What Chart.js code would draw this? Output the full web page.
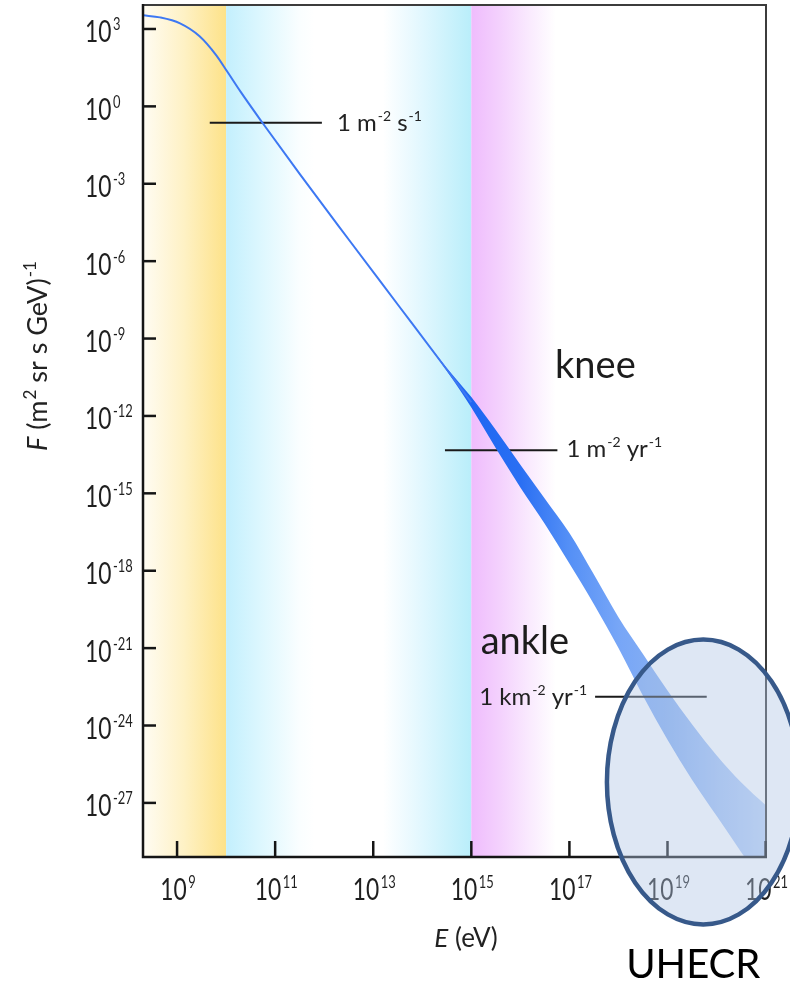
<!DOCTYPE html>
<html>
<head>
<meta charset="utf-8">
<script src="https://cdn.jsdelivr.net/npm/chart.js@4.4.1/dist/chart.umd.min.js"></script>
<style>
html,body{margin:0;padding:0;background:#fff;}
#wrap{width:790px;height:983px;position:relative;}
</style>
</head>
<body>
<div id="wrap"><canvas id="c"></canvas></div>
<script>
// ---------- data ----------
// thin spectrum line: energy (eV) and flux F (m^-2 sr^-1 s^-1 GeV^-1)
const lineEnergy = [2.04e8, 4.47e8, 1.15e9, 2.88e9, 6.31e9, 1.07e10, 2.0e10, 5.5e10, 3.16e11, 3.16e12, 3.16e13, 3.16e14, 1.0e15];
const lineFlux   = [3.39e3, 2.82e3, 1.66e3, 5.25e2, 9.55e1, 2.14e1, 3.55e0, 2.32e-1, 2.40e-3, 6.92e-6, 2.09e-8, 6.31e-11, 3.39e-12];
// widening uncertainty band at high energy
const bandEnergy = [1e14, 3.16e14, 1e15, 3.16e15, 1e16, 3.16e16, 1e17, 3.16e17, 1e18, 3.16e18, 1e19, 3.16e19, 1e20, 3.16e20, 1.02e21];
const bandUpper  = [1.17e-9, 7.24e-11, 5.37e-12, 2.82e-13, 1.29e-14, 6.17e-16, 2.88e-17, 7.08e-19, 1.58e-20, 5.89e-22, 2.29e-23, 1.12e-24, 7.08e-26, 6.31e-27, 7.94e-28];
const bandLower  = [1.17e-9, 5.50e-11, 2.14e-12, 5.62e-14, 1.70e-15, 6.46e-17, 1.91e-18, 5.01e-20, 1.0e-21, 1.41e-23, 2.82e-25, 7.94e-27, 3.16e-28, 1.26e-29, 5.01e-31];
// axis ticks
const xTickValues    = [1e9, 1e11, 1e13, 1e15, 1e17, 1e19, 1e21];
const xTickExponents = ['9', '11', '13', '15', '17', '19', '21'];
const yTickValues    = [1e3, 1e0, 1e-3, 1e-6, 1e-9, 1e-12, 1e-15, 1e-18, 1e-21, 1e-24, 1e-27];
const yTickExponents = ['3', '0', '-3', '-6', '-9', '-12', '-15', '-18', '-21', '-24', '-27'];
const xRange = [2.02e8, 1.02e21];
const yRange = [8.1e-30, 8.5e3];
// energy regions shaded in the background
const regionStart = [2.02e8, 1e10, 1e15];
const regionEnd   = [1e10, 1e15, 5.3e16];
// integral-rate reference levels
const rateFlux  = [2.32e-1, 4.65e-14, 1.29e-23];
const rateEMin  = [4.64e9, 2.90e14, 3.34e17];
const rateEMax  = [8.97e11, 5.69e16, 6.31e19];
const rateText  = [
  [['1 m','n'],['-2','s'],[' s','n'],['-1','s']],
  [['1 m','n'],['-2','s'],[' yr','n'],['-1','s']],
  [['1 km','n'],['-2','s'],[' yr','n'],['-1','s']]
];
// feature labels
const featureText   = ['knee', 'ankle'];
const featureEnergy = [5.1e16, 1.55e15];
const featureFlux   = [3.0e-11, 6.0e-22];
// UHECR highlight region (ellipse bounding box in data units)
const uhecrEnergy = [5.82e17, 4.95e21];
const uhecrFlux   = [2.14e-21, 1.95e-32];
const uhecrText = 'UHECR';
const xTitleRuns = [['E','i'],[' (eV)','n']];
const yTitleRuns = [['F','i'],[' (m','n'],['2','s'],[' sr s GeV)','n'],['-1','s']];

// ---------- helpers ----------
function drawRich(ctx, runs, x, y, o) {
  const fam = o.family || 'Lato';
  const fontFor = r => (r[1] === 'i' ? 'italic ' : '') + (r[1] === 's' ? o.supSize : o.size) + 'px ' + fam;
  let w = 0; const ws = [];
  runs.forEach(r => { ctx.font = fontFor(r); const m = ctx.measureText(r[0]).width; ws.push(m); w += m + (r[1] === 's' ? (o.supGap || 0) : 0); });
  const sx = o.sx || 1;
  const start = o.align === 'center' ? -w / 2 : (o.align === 'right' ? -w : 0);
  ctx.save();
  ctx.translate(x, y);
  ctx.scale(sx, 1);
  ctx.fillStyle = o.color || '#222';
  ctx.textBaseline = 'alphabetic';
  ctx.textAlign = 'left';
  let cx = start;
  runs.forEach((r, i) => {
    ctx.font = fontFor(r);
    if (r[1] === 's') cx += (o.supGap || 0);
    ctx.fillText(r[0], cx, r[1] === 's' ? -o.supRise : 0);
    cx += ws[i];
  });
  ctx.restore();
  return w * sx;
}

const regionStops = [
  [[0, '#fffcf3'], [0.5, '#fef1c4'], [1, '#fde289']],
  [[0, '#c3effd'], [0.12, '#d9f6fe'], [0.3, '#fafeff'], [0.36, '#ffffff'], [0.64, '#ffffff'], [0.8, '#e1f7fe'], [1, '#b9eefa']],
  [[0, '#efbcfd'], [0.35, '#f4d2fd'], [0.7, '#faebfe'], [1, '#ffffff']]
];

function drawRateLine(chart, i) {
  const {ctx, scales: {x, y}} = chart;
  const py = y.getPixelForValue(rateFlux[i]);
  ctx.save();
  ctx.strokeStyle = '#1a1a1a';
  ctx.lineWidth = 2;
  ctx.beginPath();
  ctx.moveTo(x.getPixelForValue(rateEMin[i]), py);
  ctx.lineTo(x.getPixelForValue(rateEMax[i]), py);
  ctx.stroke();
  ctx.restore();
}

const bgPlugin = {
  id: 'bgBands',
  beforeDatasetsDraw(chart) {
    const {ctx, chartArea: a, scales: {x}} = chart;
    ctx.save();
    regionStart.forEach((s, i) => {
      const x0 = Math.max(a.left, x.getPixelForValue(s));
      const x1 = x.getPixelForValue(regionEnd[i]);
      const g = ctx.createLinearGradient(x0, 0, x1, 0);
      regionStops[i].forEach(st => g.addColorStop(st[0], st[1]));
      ctx.fillStyle = g;
      ctx.fillRect(x0, a.top, x1 - x0, a.bottom - a.top);
    });
    ctx.restore();
    drawRateLine(chart, 0);
    drawRateLine(chart, 1);
  }
};

const overlayPlugin = {
  id: 'overlay',
  afterDatasetsDraw(chart) {
    const {ctx, chartArea: a, scales: {x, y}} = chart;
    drawRateLine(chart, 2);
    ctx.save();
    // frame
    ctx.lineCap = 'butt';
    ctx.strokeStyle = '#3c3c3c';
    ctx.lineWidth = 2;
    ctx.beginPath();
    ctx.moveTo(a.left, a.top); ctx.lineTo(a.right, a.top); ctx.lineTo(a.right, a.bottom);
    ctx.stroke();
    ctx.strokeStyle = '#151515';
    ctx.lineWidth = 2.5;
    ctx.beginPath();
    ctx.moveTo(a.left, a.top - 1); ctx.lineTo(a.left, a.bottom); ctx.lineTo(a.right + 1, a.bottom);
    ctx.stroke();
    // ticks (inward)
    ctx.lineWidth = 2.5;
    yTickValues.forEach(v => {
      const py = y.getPixelForValue(v);
      ctx.beginPath(); ctx.moveTo(a.left, py); ctx.lineTo(a.left + 13, py); ctx.stroke();
    });
    xTickValues.forEach(v => {
      const px = x.getPixelForValue(v);
      ctx.beginPath(); ctx.moveTo(px, a.bottom); ctx.lineTo(px, a.bottom - 16); ctx.stroke();
    });
    ctx.restore();

    // tick labels
    const tickOpt = {size: 30, supSize: 17, supRise: 12, sx: 0.76, supGap: 2, color: '#1f1f1f'};
    yTickValues.forEach((v, i) => {
      const py = y.getPixelForValue(v);
      drawRich(ctx, [['10','n'], [yTickExponents[i], 's']], 85, py + 13.5, Object.assign({align: 'left'}, tickOpt));
    });
    xTickValues.forEach((v, i) => {
      const px = x.getPixelForValue(v);
      drawRich(ctx, [['10','n'], [xTickExponents[i], 's']], px + 1, a.bottom + 43, Object.assign({align: 'center', supRise: 13}, tickOpt));
    });

    // axis titles
    drawRich(ctx, xTitleRuns, 466, a.bottom + 90, {size: 26, supSize: 16, supRise: 10, align: 'center', color: '#222'});
    ctx.save();
    ctx.translate(47, 356);
    ctx.rotate(-Math.PI / 2);
    drawRich(ctx, yTitleRuns, 0, 0, {size: 27, supSize: 17, supRise: 11, align: 'center', color: '#222', supGap: 1});
    ctx.restore();

    // rate labels
    const rOpt = {size: 24, supSize: 14, supRise: 10, color: '#222', supGap: 1};
    const ry = rateFlux.map(f => y.getPixelForValue(f));
    drawRich(ctx, rateText[0], x.getPixelForValue(rateEMax[0]) + 15, ry[0] + 8, Object.assign({align: 'left'}, rOpt));
    drawRich(ctx, rateText[1], x.getPixelForValue(rateEMax[1]) + 9, ry[1] + 7, Object.assign({align: 'left'}, rOpt));
    drawRich(ctx, rateText[2], x.getPixelForValue(rateEMin[2]) - 8, ry[2] + 8, Object.assign({align: 'right'}, rOpt));

    // feature labels
    featureText.forEach((t, i) => {
      drawRich(ctx, [[t, 'n']], x.getPixelForValue(featureEnergy[i]), y.getPixelForValue(featureFlux[i]), {size: 38, supSize: 20, supRise: 0, align: 'left', color: '#1c1c1c'});
    });
  },
  afterDraw(chart) {
    const {ctx, scales: {x, y}} = chart;
    const x0 = x.getPixelForValue(uhecrEnergy[0]), x1 = x.getPixelForValue(uhecrEnergy[1]);
    const y0 = y.getPixelForValue(uhecrFlux[0]), y1 = y.getPixelForValue(uhecrFlux[1]);
    const cx = (x0 + x1) / 2, cy = (y0 + y1) / 2;
    ctx.save();
    ctx.beginPath();
    ctx.ellipse(cx, cy, (x1 - x0) / 2, (y1 - y0) / 2, 0, 0, Math.PI * 2);
    ctx.fillStyle = 'rgba(176,198,228,0.42)';
    ctx.fill();
    ctx.lineWidth = 4.5;
    ctx.strokeStyle = '#37598a';
    ctx.stroke();
    ctx.restore();
    drawRich(ctx, [[uhecrText, 'n']], cx - 10, 978, {size: 40, supSize: 20, supRise: 0, align: 'center', color: '#000'});
  }
};

function bandGradient(context) {
  const chart = context.chart;
  const {ctx, chartArea, scales} = chart;
  if (!chartArea || !scales.x) return 'rgba(60,120,240,0.8)';
  const xa = scales.x.getPixelForValue(bandEnergy[0]);
  const xb = scales.x.getPixelForValue(bandEnergy[bandEnergy.length - 1]);
  const g = ctx.createLinearGradient(xa, 0, xb, 0);
  g.addColorStop(0, '#3d78f3');
  g.addColorStop(1 / 7, '#1e66f2');
  g.addColorStop(2 / 7, '#2a6ff3');
  g.addColorStop(3 / 7, '#5590f6');
  g.addColorStop(4 / 7, '#77a6f7');
  g.addColorStop(5 / 7, '#88b0f2');
  g.addColorStop(6 / 7, '#a5c3f5');
  g.addColorStop(1, '#bed4f7');
  return g;
}

const toPts = (xs, ys) => xs.map((v, i) => ({x: v, y: ys[i]}));

new Chart(document.getElementById('c'), {
  type: 'line',
  data: {
    datasets: [
      {label: 'Cosmic-ray flux', data: toPts(lineEnergy, lineFlux), borderColor: '#3d78f3', borderWidth: 2,
       pointRadius: 0, fill: false, cubicInterpolationMode: 'monotone'},
      {label: 'Band upper', data: toPts(bandEnergy, bandUpper), borderWidth: 0, borderColor: 'rgba(0,0,0,0)',
       pointRadius: 0, fill: false, cubicInterpolationMode: 'monotone'},
      {label: 'Band lower', data: toPts(bandEnergy, bandLower), borderWidth: 0, borderColor: 'rgba(0,0,0,0)',
       pointRadius: 0, fill: '-1', backgroundColor: bandGradient, cubicInterpolationMode: 'monotone'}
    ]
  },
  options: {
    responsive: true,
    maintainAspectRatio: false,
    animation: false,
    layout: {padding: {left: 143, top: 5, right: 24, bottom: 126}},
    plugins: {legend: {display: false}, tooltip: {enabled: false}},
    scales: {
      x: {type: 'logarithmic', min: xRange[0], max: xRange[1], display: false},
      y: {type: 'logarithmic', min: yRange[0], max: yRange[1], display: false}
    }
  },
  plugins: [bgPlugin, overlayPlugin]
});
</script>
</body>
</html>
